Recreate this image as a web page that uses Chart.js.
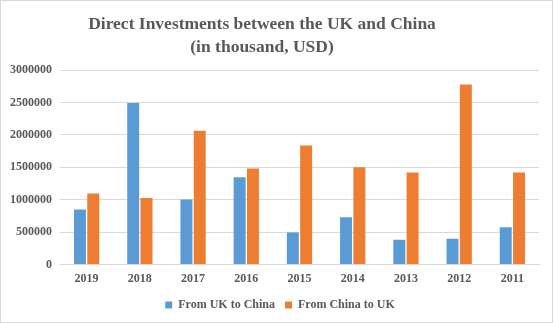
<!DOCTYPE html>
<html><head><meta charset="utf-8">
<script src="https://cdn.jsdelivr.net/npm/chart.js@4"></script>
<style>
html,body{margin:0;padding:0;background:#fff;}
#wrap{position:relative;width:551px;height:321px;border:1px solid #d9d9d9;}
</style></head>
<body><div id="wrap"><canvas id="c" width="551" height="321"></canvas></div>
<script>
const categories = ["2019","2018","2017","2016","2015","2014","2013","2012","2011"];
const ukToChina = [850000, 2490000, 1005000, 1345000, 495000, 730000, 385000, 400000, 575000];
const chinaToUk = [1095000, 1025000, 2065000, 1480000, 1835000, 1500000, 1420000, 2775000, 1420000];
const yTicks = [0, 500000, 1000000, 1500000, 2000000, 2500000, 3000000];

const font = 'Liberation Serif';
const shiftBoxes = {
  id: 'shiftBoxes',
  afterLayout(chart) {
    const t = chart.titleBlock, l = chart.legend;
    if (t) { t.left -= 8; t.right -= 8; }
    if (l) { l.left += 10; l.right += 10; if (l.adjustHitBoxes) l.adjustHitBoxes(); }
  }
};
new Chart(document.getElementById('c'), {
  type: 'bar',
  data: {
    labels: categories,
    datasets: [
      {label: 'From UK to China', data: ukToChina, backgroundColor: '#5b9bd5', categoryPercentage: 0.5, barPercentage: 0.9},
      {label: 'From China to UK', data: chinaToUk, backgroundColor: '#ed7d31', categoryPercentage: 0.5, barPercentage: 0.9}
    ]
  },
  plugins: [shiftBoxes],
  options: {
    responsive: false,
    animation: false,
    layout: {padding: {left: 0, right: 13, top: 8.5, bottom: 1}},
    plugins: {
      title: {display: true, text: ['Direct Investments between the UK and China', '(in thousand, USD)'],
        color: '#595959', font: {family: font, size: 17.5, weight: 'bold', lineHeight: 1.3}, padding: {top: 4, bottom: 11}},
      legend: {position: 'bottom', labels: {color: '#595959', boxWidth: 7, boxHeight: 7, padding: 10,
        font: {family: font, size: 12, weight: 'bold'}}},
      tooltip: {enabled: false}
    },
    scales: {
      x: {grid: {display: false, drawTicks: false}, border: {display: true, color: '#d9d9d9'},
        afterFit: s => { s.height = s.height - 4; },
        ticks: {color: '#595959', font: {family: font, size: 12, weight: 'bold'}, padding: 7}},
      y: {min: 0, max: 3000000, afterBuildTicks: s => { s.ticks = yTicks.map(v => ({value: v})); },
        afterFit: s => { s.width = 59; },
        grid: {color: '#d9d9d9', drawTicks: false}, border: {display: false},
        ticks: {color: '#595959', font: {family: font, size: 12, weight: 'bold'}, padding: 8,
          callback: v => String(v)}}
    }
  }
});
</script></body></html>
